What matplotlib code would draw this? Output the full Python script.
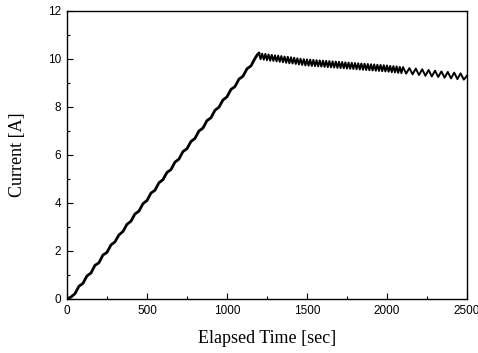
import matplotlib
matplotlib.use("Agg")
import matplotlib.pyplot as plt
from matplotlib.ticker import MultipleLocator

# ramp phase (sampled every 25 s)
ramp_time_s = [0, 25, 50, 75, 100, 125, 150, 175, 200, 225, 250, 275, 300, 325, 350,
               375, 400, 425, 450, 475, 500, 525, 550, 575, 600, 625, 650, 675, 700,
               725, 750, 775, 800, 825, 850, 875, 900, 925, 950, 975, 1000, 1025,
               1050, 1075, 1100, 1125, 1150, 1175, 1190, 1200]
ramp_current_a = [0.00, 0.08, 0.22, 0.53, 0.65, 0.96, 1.08, 1.40, 1.51, 1.83, 1.94,
                  2.25, 2.38, 2.67, 2.81, 3.11, 3.24, 3.54, 3.66, 3.97, 4.10, 4.41,
                  4.53, 4.84, 4.97, 5.27, 5.39, 5.70, 5.83, 6.14, 6.26, 6.56, 6.69,
                  7.00, 7.12, 7.43, 7.55, 7.86, 7.99, 8.29, 8.42, 8.73, 8.85, 9.16,
                  9.28, 9.59, 9.71, 10.02, 10.18, 10.24]

# hold phase (dense sampling, 10 s to 2100 s, then 20 s)
hold_time_s = [1200, 1210, 1220, 1230, 1240, 1250, 1260, 1270, 1280, 1290,
               1300, 1310, 1320, 1330, 1340, 1350, 1360, 1370, 1380, 1390,
               1400, 1410, 1420, 1430, 1440, 1450, 1460, 1470, 1480, 1490,
               1500, 1510, 1520, 1530, 1540, 1550, 1560, 1570, 1580, 1590,
               1600, 1610, 1620, 1630, 1640, 1650, 1660, 1670, 1680, 1690,
               1700, 1710, 1720, 1730, 1740, 1750, 1760, 1770, 1780, 1790,
               1800, 1810, 1820, 1830, 1840, 1850, 1860, 1870, 1880, 1890,
               1900, 1910, 1920, 1930, 1940, 1950, 1960, 1970, 1980, 1990,
               2000, 2010, 2020, 2030, 2040, 2050, 2060, 2070, 2080, 2090,
               2100, 2120, 2140, 2160, 2180, 2200, 2220, 2240, 2260, 2280,
               2300, 2320, 2340, 2360, 2380, 2400, 2420, 2440, 2460, 2480, 2500]
hold_current_a = [10.24, 9.99, 10.22, 9.97, 10.21, 9.95, 10.19, 9.93, 10.17, 9.92,
                  10.15, 9.90, 10.14, 9.88, 10.12, 9.86, 10.10, 9.84, 10.09, 9.82,
                  10.07, 9.81, 10.05, 9.79, 10.03, 9.77, 10.01, 9.75, 9.99, 9.73,
                  9.98, 9.72, 9.97, 9.71, 9.96, 9.70, 9.95, 9.69, 9.94, 9.68,
                  9.93, 9.67, 9.92, 9.66, 9.91, 9.65, 9.90, 9.64, 9.89, 9.63,
                  9.88, 9.62, 9.87, 9.61, 9.86, 9.60, 9.85, 9.59, 9.84, 9.58,
                  9.83, 9.57, 9.82, 9.56, 9.81, 9.55, 9.80, 9.54, 9.79, 9.53,
                  9.78, 9.52, 9.77, 9.51, 9.76, 9.50, 9.75, 9.49, 9.74, 9.48,
                  9.73, 9.47, 9.71, 9.45, 9.70, 9.44, 9.69, 9.42, 9.67, 9.41,
                  9.66, 9.39, 9.62, 9.36, 9.60, 9.33, 9.57, 9.30, 9.54, 9.27,
                  9.51, 9.25, 9.48, 9.22, 9.46, 9.19, 9.43, 9.16, 9.40, 9.14, 9.30]

fig = plt.figure(figsize=(4.78, 3.53), dpi=100)
ax = fig.add_axes([0.140, 0.153, 0.837, 0.816])
ax.plot(ramp_time_s, ramp_current_a, color="black", linewidth=2.0)
ax.plot(hold_time_s, hold_current_a, color="black", linewidth=1.4)

ax.set_xlim(0, 2500)
ax.set_ylim(0, 12)
ax.xaxis.set_major_locator(MultipleLocator(500))
ax.xaxis.set_minor_locator(MultipleLocator(250))
ax.yaxis.set_major_locator(MultipleLocator(2))
ax.yaxis.set_minor_locator(MultipleLocator(1))
ax.tick_params(which="both", direction="in", top=False, right=False,
               labelsize=8.5, width=0.8)
ax.tick_params(which="major", length=4, pad=4)
ax.tick_params(which="minor", length=2)
for lbl in ax.get_xticklabels() + ax.get_yticklabels():
    lbl.set_fontfamily("Liberation Sans")
for s in ax.spines.values():
    s.set_linewidth(1.0)

ax.set_xlabel("Elapsed Time [sec]", fontfamily="Liberation Serif", fontsize=13, labelpad=10)
ax.set_ylabel("Current [A]", fontfamily="Liberation Serif", fontsize=13, labelpad=16)

fig.savefig("out.png", dpi=100)
